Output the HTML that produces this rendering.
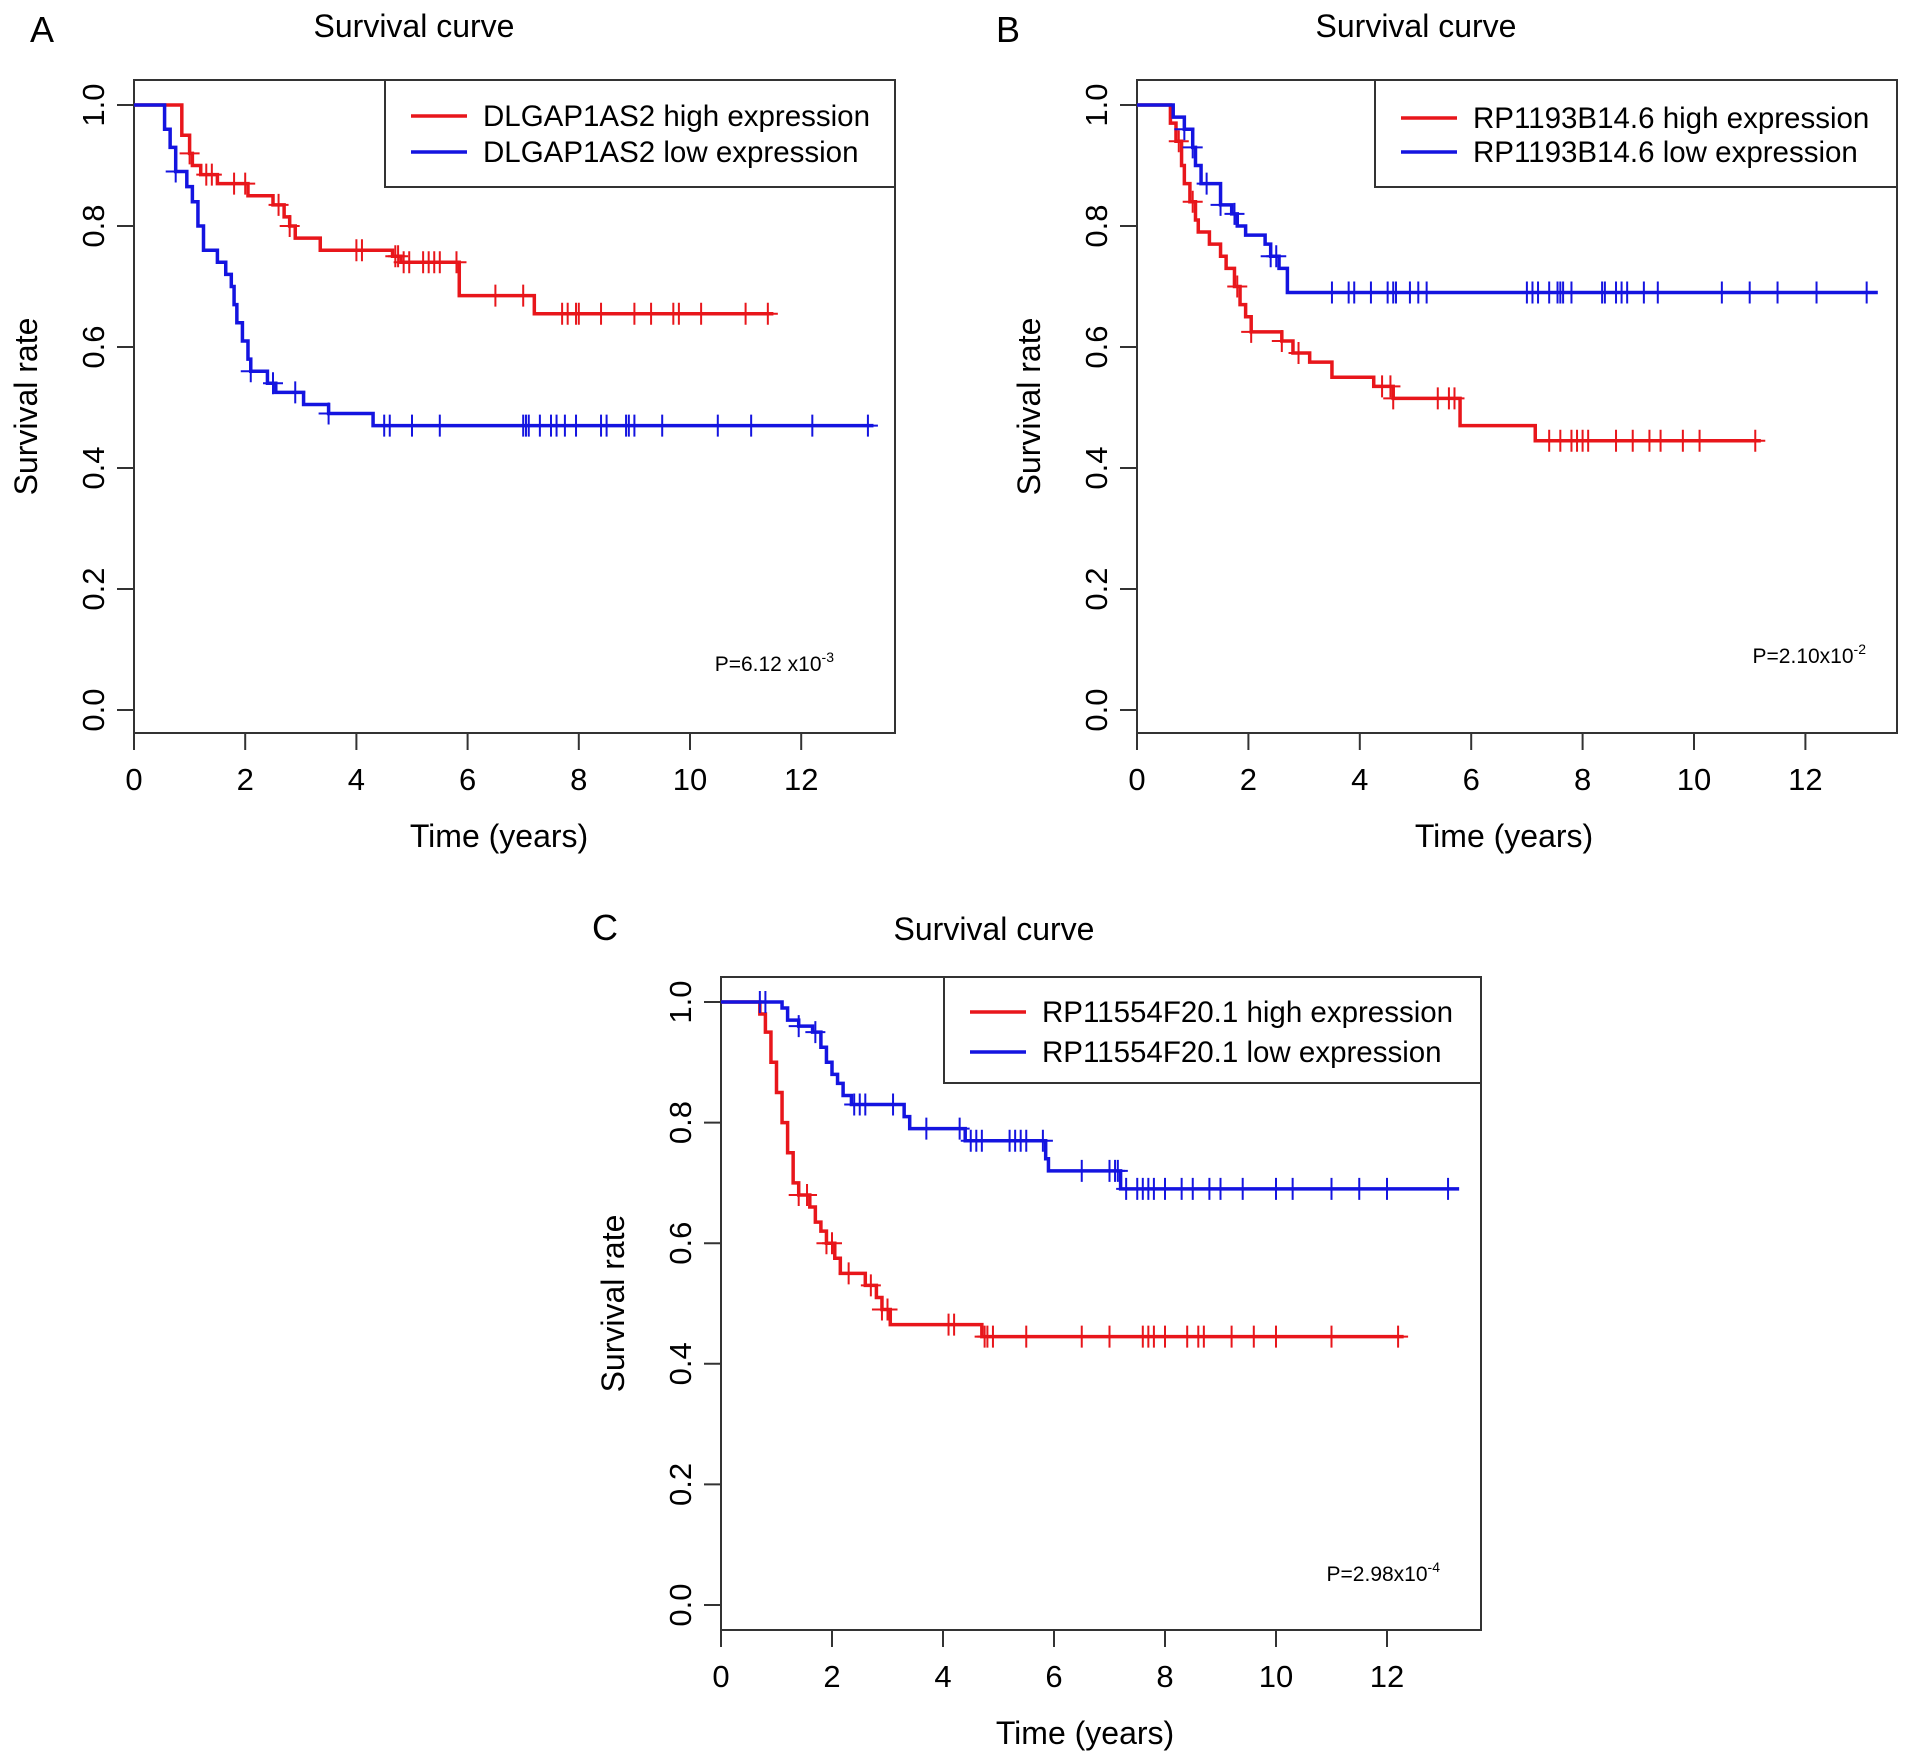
<!DOCTYPE html>
<html><head><meta charset="utf-8">
<style>
html,body{margin:0;padding:0;background:#fff;}
svg{display:block;font-family:"Liberation Sans",Arial,sans-serif;}
</style></head>
<body>
<svg id="fig" width="1913" height="1760" viewBox="0 0 1913 1760" xmlns="http://www.w3.org/2000/svg"></svg>
<script>
// Panel A data
const aHighT=[0.86,1.0,1.05,1.2,1.5,2.05,2.5,2.7,2.8,2.9,3.35,4.65,4.8,5.85,7.2];
const aHighS=[0.95,0.92,0.90,0.885,0.87,0.85,0.835,0.815,0.80,0.78,0.76,0.75,0.74,0.685,0.655];
const aHighEnd=11.5;
const aHighC=[1.0,1.3,1.4,1.8,2.0,2.6,2.8,4.0,4.1,4.7,4.75,4.85,4.95,5.2,5.3,5.4,5.5,5.8,6.5,7.0,7.7,7.8,7.95,8.0,8.4,9.0,9.3,9.7,9.8,10.2,11.0,11.4];
const aLowT=[0.55,0.65,0.75,0.95,1.05,1.15,1.25,1.5,1.65,1.75,1.8,1.85,1.95,2.05,2.1,2.4,2.55,3.05,3.5,4.3];
const aLowS=[0.96,0.93,0.89,0.865,0.84,0.80,0.76,0.74,0.72,0.70,0.67,0.64,0.61,0.58,0.56,0.54,0.525,0.505,0.49,0.47];
const aLowEnd=13.3;
const aLowC=[0.75,2.1,2.5,2.9,3.5,4.5,4.6,5.0,5.5,7.0,7.05,7.1,7.3,7.5,7.6,7.75,7.95,8.4,8.5,8.85,8.9,9.0,9.5,10.5,11.1,12.2,13.2];
// Panel B data
const bHighT=[0.6,0.7,0.8,0.85,0.95,1.05,1.1,1.3,1.5,1.6,1.75,1.85,1.95,2.05,2.6,2.8,3.1,3.5,4.25,4.6,5.8,7.15];
const bHighS=[0.97,0.94,0.90,0.87,0.84,0.81,0.79,0.77,0.75,0.73,0.70,0.67,0.65,0.625,0.61,0.59,0.575,0.55,0.535,0.515,0.47,0.445];
const bHighEnd=11.2;
const bHighC=[0.75,1.0,1.8,2.05,2.6,2.9,4.4,4.55,4.6,5.4,5.6,5.7,7.4,7.6,7.8,7.9,8.0,8.1,8.6,8.9,9.2,9.4,9.8,10.1,11.1];
const bLowT=[0.65,0.85,1.0,1.05,1.15,1.5,1.7,1.8,1.95,2.3,2.4,2.55,2.7];
const bLowS=[0.98,0.96,0.93,0.90,0.87,0.835,0.82,0.80,0.785,0.77,0.75,0.73,0.69];
const bLowEnd=13.3;
const bLowC=[0.85,1.0,1.25,1.5,1.75,2.4,2.5,3.5,3.8,3.9,4.2,4.5,4.6,4.65,4.9,5.05,5.2,7.0,7.1,7.2,7.4,7.55,7.6,7.65,7.8,8.35,8.4,8.6,8.7,8.8,9.1,9.35,10.5,11.0,11.5,12.2,13.1];
// Panel C data
const cHighT=[0.7,0.8,0.9,1.0,1.1,1.2,1.3,1.4,1.6,1.7,1.8,1.9,2.05,2.15,2.6,2.8,2.9,3.05,4.7];
const cHighS=[0.98,0.95,0.90,0.85,0.80,0.75,0.70,0.68,0.66,0.635,0.62,0.60,0.575,0.55,0.53,0.51,0.49,0.465,0.445];
const cHighEnd=12.3;
const cHighC=[1.4,1.55,1.9,2.0,2.3,2.7,2.9,3.0,4.1,4.2,4.75,4.8,4.9,5.5,6.5,7.0,7.6,7.7,7.8,8.0,8.4,8.6,8.7,9.2,9.6,10.0,11.0,12.2];
const cLowT=[1.1,1.2,1.4,1.65,1.8,1.9,2.0,2.1,2.2,2.35,3.3,3.4,4.4,5.85,5.9,7.2];
const cLowS=[0.99,0.97,0.96,0.95,0.925,0.90,0.88,0.865,0.845,0.83,0.81,0.79,0.77,0.74,0.72,0.69];
const cLowEnd=13.3;
const cLowC=[0.7,0.8,1.4,1.7,2.4,2.5,2.6,3.1,3.7,4.3,4.5,4.6,4.7,5.2,5.3,5.4,5.5,5.8,6.5,7.0,7.1,7.15,7.3,7.5,7.6,7.7,7.8,8.0,8.3,8.5,8.8,9.0,9.4,10.0,10.3,11.0,11.5,12.0,13.1];

const xTicks=[0,2,4,6,8,10,12];
const yTicks=[0,0.2,0.4,0.6,0.8,1.0];
const yTickLabels=["0.0","0.2","0.4","0.6","0.8","1.0"];

const NS="http://www.w3.org/2000/svg";
const svg=document.getElementById('fig');
function mk(tag,attrs,parent,text){const e=document.createElementNS(NS,tag);for(const k in attrs)e.setAttribute(k,attrs[k]);if(text!==undefined)e.textContent=text;(parent||svg).appendChild(e);return e;}

function panel(cfg){
  const g=mk('g',{});
  
  
  const X=t=>cfg.x0+t*cfg.xpy;
  const Y=s=>cfg.y0-s*(cfg.y0-cfg.y1);
  const L=cfg.x0,R=cfg.right,T=cfg.top,B=cfg.bottom;
  const lt=mk('text',{x:cfg.letterX,y:cfg.letterY,'font-size':36},g,cfg.letter);
   
  const tt=mk('text',{x:(cfg.titleX),y:cfg.titleY,'font-size':32,'text-anchor':'middle'},g,'Survival curve');
   
  const box=mk('rect',{x:L,y:T,width:R-L,height:B-T,fill:'none',stroke:'#333','stroke-width':2},g);
   
  const xa=mk('g',{},g);  
  xTicks.forEach(v=>{
    mk('line',{x1:X(v),x2:X(v),y1:B,y2:B+17,stroke:'#333','stroke-width':2},xa);
    const t=mk('text',{x:X(v),y:B+57,'font-size':31,'text-anchor':'middle'},xa,String(v));
     
  });
  const xt=mk('text',{x:cfg.xTitleX,y:B+114,'font-size':32,'text-anchor':'middle'},g,'Time (years)');
   
  const ya=mk('g',{},g);  
  yTicks.forEach((v,i)=>{
    mk('line',{x1:L-17,x2:L,y1:Y(v),y2:Y(v),stroke:'#333','stroke-width':2},ya);
    const tx=L-30,ty=Y(v);
    const t=mk('text',{x:tx,y:ty,'font-size':31,'text-anchor':'middle',transform:`rotate(-90 ${tx} ${ty})`},ya,yTickLabels[i]);
     
  });
  const yx=L-97,yy=(T+B)/2;
  const yt=mk('text',{x:yx,y:yy,'font-size':32,'text-anchor':'middle',transform:`rotate(-90 ${yx} ${yy})`},g,'Survival rate');
   
  function curve(T_,S_,end,C,color,name){
    let d=`M${X(0)},${Y(1)}`;
    T_.forEach((t,i)=>{d+=` H${X(t)} V${Y(S_[i])}`;});
    d+=` H${X(end)}`;
    const p=mk('path',{d:d,fill:'none',stroke:color,'stroke-width':3.5},g);
     
    C.forEach(c=>{
      let sv=1; T_.forEach((t,i)=>{if(t<=c)sv=S_[i];});
      const m=mk('path',{d:`M${X(c)},${Y(sv)-11}V${Y(sv)+11}M${X(c)-10},${Y(sv)}H${X(c)+10}`,stroke:color,'stroke-width':2,fill:'none'},g);
       
    });
  }
  curve(cfg.hT,cfg.hS,cfg.hEnd,cfg.hC,'#e8161b','high-expression');
  curve(cfg.lT,cfg.lS,cfg.lEnd,cfg.lC,'#1414e0','low-expression');
  const lg=mk('g',{},lg0=g);  
  mk('rect',{x:cfg.legL,y:T,width:R-cfg.legL,height:cfg.legB-T,fill:'#fff',stroke:'#333','stroke-width':2},lg);
  [[cfg.legY1,'#e8161b',cfg.gene+' high expression'],[cfg.legY2,'#1414e0',cfg.gene+' low expression']].forEach(e=>{
    const le=mk('g',{},lg);  
    mk('line',{x1:cfg.legL+26,x2:cfg.legL+82,y1:e[0],y2:e[0],stroke:e[1],'stroke-width':3.5},le);
    mk('text',{x:cfg.legL+98,y:e[0]+10,'font-size':29.5},le,e[2]);
  });
  const pt=mk('text',{x:cfg.pX,y:cfg.pY,'font-size':21,'text-anchor':'end'},g);
   
  mk('tspan',{},pt,cfg.p);
  mk('tspan',{dy:-9,'font-size':14},pt,cfg.exp);
}
var lg0;
panel({id:'a',letter:'A',letterX:30,letterY:42,titleX:414,titleY:37,x0:134,xpy:55.6,y1:105,y0:710,right:895,top:80,bottom:733,xTitleX:499,
  legL:385,legB:187,legY1:116,legY2:152,gene:'DLGAP1AS2',pX:834,pY:671,p:'P=6.12 x10',exp:'-3',
  hT:aHighT,hS:aHighS,hEnd:aHighEnd,hC:aHighC,lT:aLowT,lS:aLowS,lEnd:aLowEnd,lC:aLowC});
panel({id:'b',letter:'B',letterX:996,letterY:42,titleX:1416,titleY:37,x0:1137,xpy:55.7,y1:105,y0:710,right:1897,top:80,bottom:733,xTitleX:1504,
  legL:1375,legB:187,legY1:118,legY2:152,gene:'RP1193B14.6',pX:1866,pY:663,p:'P=2.10x10',exp:'-2',
  hT:bHighT,hS:bHighS,hEnd:bHighEnd,hC:bHighC,lT:bLowT,lS:bLowS,lEnd:bLowEnd,lC:bLowC});
panel({id:'c',letter:'C',letterX:592,letterY:940,titleX:994,titleY:940,x0:721,xpy:55.5,y1:1002,y0:1605,right:1481,top:977,bottom:1630,xTitleX:1085,
  legL:944,legB:1083,legY1:1012,legY2:1052,gene:'RP11554F20.1',pX:1440,pY:1581,p:'P=2.98x10',exp:'-4',
  hT:cHighT,hS:cHighS,hEnd:cHighEnd,hC:cHighC,lT:cLowT,lS:cLowS,lEnd:cLowEnd,lC:cLowC});
</script>
</body></html>
